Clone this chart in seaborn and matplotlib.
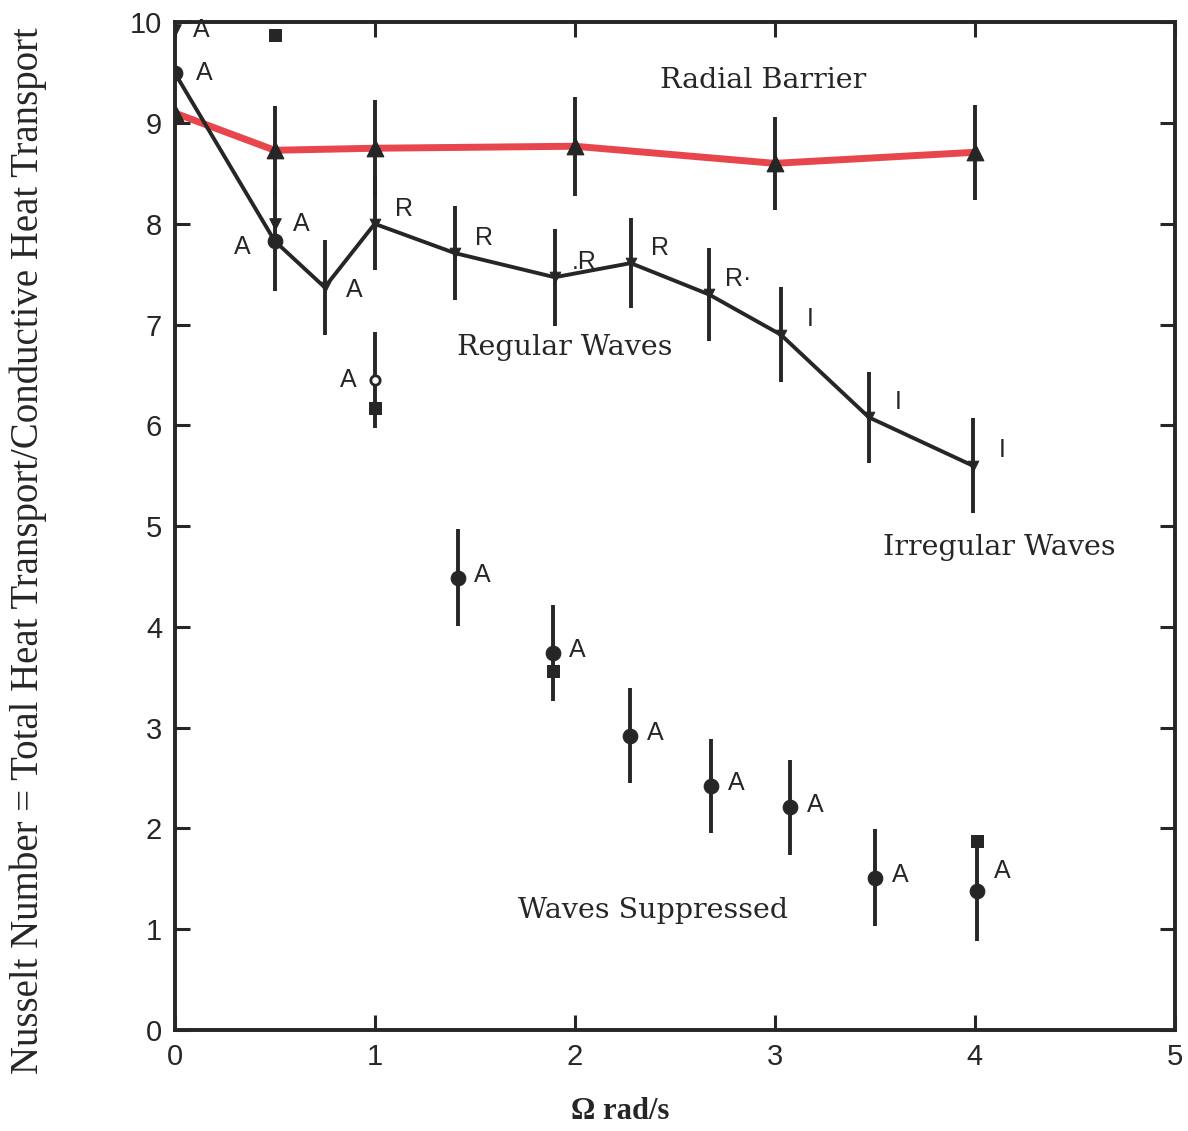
import numpy as np
import pandas as pd
import matplotlib
matplotlib.use("Agg")
import matplotlib.pyplot as plt
import seaborn as sns

# Radial barrier (red line, triangles)
barrier_x = [0, 0.5, 1, 2, 3, 4]
barrier_y = [9.1, 8.73, 8.75, 8.77, 8.6, 8.71]
barrier_err = [0, 0.44, 0.48, 0.49, 0.46, 0.47]

# Wave regime series (black line)
wave_x = [0, 0.5, 0.75, 1, 1.4, 1.9, 2.28, 2.67, 3.03, 3.47, 3.99]
wave_y = [9.5, 7.83, 7.37, 8.0, 7.71, 7.47, 7.61, 7.3, 6.9, 6.08, 5.6]
wave_err = [0, 0.5, 0.47, 0.46, 0.47, 0.48, 0.45, 0.46, 0.47, 0.45, 0.47]
wave_regime = ["A", "A", "A", "R", "R", ".R", "R", "R\u00b7", "I", "I", "I"]

# extra axisymmetric points sitting on the wave line bars
extra_x = [0.0, 0.5]
extra_y = [9.92, 8.0]
extra_regime = ["A", "A"]

# Waves suppressed (isolated points)
supp_x = [1.415, 1.89, 2.275, 2.68, 3.075, 3.5, 4.01]
supp_y = [4.49, 3.74, 2.92, 2.42, 2.21, 1.51, 1.38]
supp_err = [0.48, 0.48, 0.47, 0.47, 0.47, 0.48, 0.5]

# open circle at 1 rad/s
open_x = [1.0]
open_y = [6.45]
open_err = [0.48]

# filled squares
square_x = [0.5, 1.0, 1.89, 4.01]
square_y = [9.87, 6.17, 3.56, 1.88]

region_labels = ["Radial Barrier", "Regular Waves", "Irregular Waves", "Waves Suppressed"]
region_x = [2.94, 1.95, 4.12, 2.39]
region_y = [9.42, 6.77, 4.79, 1.19]

sns.set_style("ticks")
plt.rcParams["font.family"] = ["Liberation Sans", "DejaVu Sans"]

fig = plt.figure(figsize=(11.88, 11.31), dpi=100)
ax = fig.add_axes([0.147, 0.0893, 0.842, 0.891])

ink = "#262626"
red = "#e3262c"

barrier = pd.DataFrame({"omega": barrier_x, "nu": barrier_y})
waves = pd.DataFrame({"omega": wave_x, "nu": wave_y})

# error bars
for xs, ys, es in [(barrier_x, barrier_y, barrier_err), (wave_x, wave_y, wave_err),
                   (supp_x, supp_y, supp_err), (open_x, open_y, open_err)]:
    ax.errorbar(xs, ys, yerr=es, fmt="none", ecolor=ink, elinewidth=2.8, capsize=0, zorder=2)

# lines
sns.lineplot(data=barrier, x="omega", y="nu", ax=ax, color=red, linewidth=5, alpha=0.85,
             sort=False, zorder=3)
sns.lineplot(data=waves, x="omega", y="nu", ax=ax, color=ink, linewidth=2.8, sort=False, zorder=4)

# markers
sns.scatterplot(x=barrier_x, y=barrier_y, ax=ax, marker="^", s=140, color=ink, edgecolor=ink, zorder=5)
sns.scatterplot(x=wave_x[2:], y=wave_y[2:], ax=ax, marker="v", s=60, color=ink, edgecolor=ink, zorder=5)
sns.scatterplot(x=wave_x[:2], y=wave_y[:2], ax=ax, marker="o", s=110, color=ink, edgecolor=ink, zorder=5)
sns.scatterplot(x=extra_x, y=extra_y, ax=ax, marker="v", s=70, color=ink, edgecolor=ink, zorder=5)
sns.scatterplot(x=supp_x, y=supp_y, ax=ax, marker="o", s=110, color=ink, edgecolor=ink, zorder=5)
sns.scatterplot(x=open_x, y=open_y, ax=ax, marker="o", s=45, color="white", edgecolor=ink, linewidth=2, zorder=5)
sns.scatterplot(x=square_x, y=square_y, ax=ax, marker="s", s=80, color=ink, edgecolor=ink, zorder=5)

# regime letters
lab_font = dict(fontsize=18, color=ink, family=["Liberation Sans", "DejaVu Sans"])
for i, (x, y, t) in enumerate(zip(wave_x, wave_y, wave_regime)):
    if i == 1:
        ax.annotate(t, (x, y), xytext=(-23, -4), textcoords="offset points", ha="center", va="center", **lab_font)
    else:
        dy = 0 if i == 0 else (11 if t != "A" else -2)
        ax.annotate(t, (x, y), xytext=(21, dy), textcoords="offset points", ha="center", va="center", **lab_font)
for x, y, t in zip(extra_x, extra_y, extra_regime):
    ax.annotate(t, (x, y), xytext=(19, 0), textcoords="offset points", ha="center", va="center", **lab_font)
for i, (x, y) in enumerate(zip(supp_x, supp_y)):
    dy = 14 if i == len(supp_x) - 1 else 2
    ax.annotate("A", (x, y), xytext=(18, dy), textcoords="offset points", ha="center", va="center", **lab_font)
ax.annotate("A", (open_x[0], open_y[0]), xytext=(-19, 0), textcoords="offset points", ha="center", va="center", **lab_font)

for t, x, y in zip(region_labels, region_x, region_y):
    ax.text(x, y, t, ha="center", va="center", fontsize=20.5, family="DejaVu Serif", color=ink)

ax.set_xlim(0, 5)
ax.set_ylim(0, 10)
ax.set_xticks(range(0, 6))
ax.set_yticks(range(0, 11))
ax.tick_params(axis="both", direction="in", length=11, width=2.2, labelsize=21, colors=ink,
               top=True, right=True, pad=9)
for sp in ax.spines.values():
    sp.set_linewidth(2.8)
    sp.set_color(ink)

ax.set_xlabel("\u03a9 rad/s", fontsize=22, family="Liberation Serif", fontweight="bold", color=ink)
ax.xaxis.set_label_coords(0.445, -0.066)
ax.set_ylabel("Nusselt Number = Total Heat Transport/Conductive Heat Transport", fontsize=28,
              family="Liberation Serif", color=ink)
ax.yaxis.set_label_coords(-0.128, 0.476)

fig.savefig("out.png", dpi=100, facecolor="white")
